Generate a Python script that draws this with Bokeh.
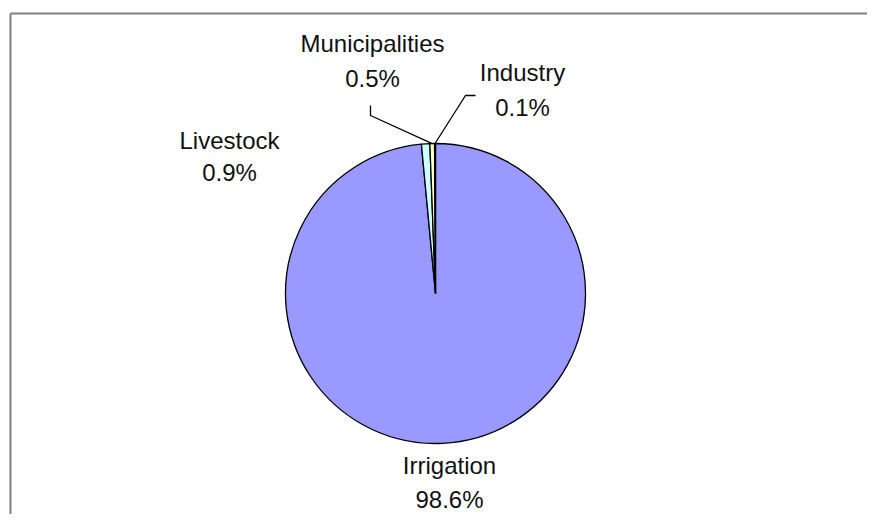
import numpy as np
from bokeh.plotting import figure
from bokeh.models import Range1d, ColumnDataSource
from bokeh.core.properties import value
from bokeh.embed import file_html
from bokeh.resources import INLINE

# ---- data ----
categories = ["Irrigation", "Livestock", "Municipalities", "Industry"]
percents = [98.6, 0.9, 0.5, 0.1]
pct_labels = ["98.6%", "0.9%", "0.5%", "0.1%"]
colors = ["#9999FF", "#CCFFFF", "#FFFFCC", "#660066"]

# ---- layout (pixel space of the figure) ----
W, H = 867, 514
CX, CY, R = 435, 221, 150
FONT = value("Liberation Sans")

p = figure(width=W, height=H, output_backend="svg", toolbar_location=None,
           x_range=Range1d(0, W), y_range=Range1d(0, H), min_border=0,
           outline_line_color=None)
p.axis.visible = False
p.grid.visible = False
p.background_fill_color = "white"

# pie (clockwise from 12 o'clock)
vals = np.array(percents, dtype=float)
frac = vals / vals.sum()
cum = np.concatenate([[0], np.cumsum(frac)])
start = np.pi / 2 - 2 * np.pi * cum[:-1]
end = np.pi / 2 - 2 * np.pi * cum[1:]
mid = (start + end) / 2
src = ColumnDataSource(dict(start=start, end=end, color=colors, cat=categories))
p.wedge(x=CX, y=CY, radius=R, start_angle="start", end_angle="end",
        direction="clock", fill_color="color", line_color="black",
        line_width=1.3, source=src)

# labels: (dx, dy of name line, dy of pct line) relative to pie centre
label_pos = {
    "Irrigation": (14, -172, -206),
    "Livestock": (-206, 153, 121),
    "Municipalities": (-63, 250, 215),
    "Industry": (87, 221, 186),
}
for i, cat in enumerate(categories):
    dx, dy1, dy2 = label_pos[cat]
    p.text(x=[CX + dx], y=[CY + dy1], text=[cat], text_font=FONT,
           text_font_size="24px", text_align="center",
           text_baseline="alphabetic", text_color="#111111")
    p.text(x=[CX + dx], y=[CY + dy2], text=[pct_labels[i]], text_font=FONT,
           text_font_size="24px", text_align="center",
           text_baseline="alphabetic", text_color="#111111")

# leader lines from labels to slice rims
leaders = {
    "Municipalities": [(-65, 188), (-65, 178)],
    "Industry": [(40, 198), (30, 198)],
}
for cat, pts in leaders.items():
    i = categories.index(cat)
    ex = CX + R * np.cos(mid[i])
    ey = CY + R * np.sin(mid[i])
    xs = [CX + a for a, b in pts] + [ex]
    ys = [CY + b for a, b in pts] + [ey]
    p.line(xs, ys, line_color="black", line_width=1.3)

# chart frame (top and left edges visible)
p.line([10, W], [501, 501], line_color="#808080", line_width=2)
p.line([10, 10], [0, 501], line_color="#808080", line_width=2)

open("out.html", "w").write(file_html(p, INLINE))
